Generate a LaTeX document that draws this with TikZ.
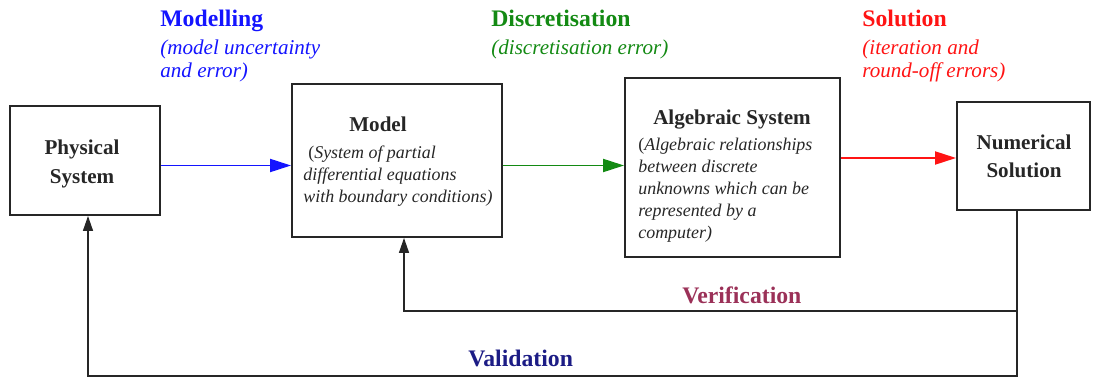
\documentclass[tikz,border=0pt]{standalone}
\usepackage{fontspec}
\setmainfont{Liberation Serif}
\usepackage{xcolor}
\usetikzlibrary{arrows.meta,positioning}
\definecolor{mdblue}{HTML}{1414FF}
\definecolor{mdgreen}{HTML}{138A13}
\definecolor{mdred}{HTML}{FF1414}
\definecolor{mdverif}{HTML}{9B3158}
\definecolor{mdvalid}{HTML}{1C1C85}
\definecolor{mdink}{HTML}{262626}
\tikzset{
  stageBox/.style={draw=mdink, line width=1.1pt, inner sep=0pt},
  stageTitle/.style={font=\fontsize{12}{16}\selectfont\bfseries, text=mdink, align=center, inner sep=0pt, anchor=base},
  stageNote/.style={font=\fontsize{10.2}{12.5}\selectfont\itshape, text=mdink, align=left, inner sep=0pt, anchor=base west},
  stepHead/.style={font=\fontsize{13.5}{16}\selectfont\bfseries, inner sep=0pt, anchor=base west},
  stepNote/.style={font=\fontsize{12}{13.1}\selectfont\itshape, align=left, inner sep=0pt, anchor=base west},
  flowArrow/.style={line width=1.1pt, -{Triangle[length=4.2mm, width=2.6mm]}},
  backArrow/.style={line width=0.8pt, draw=mdink, -{Triangle[length=3mm, width=2mm]}}
}

\begin{document}
\begin{tikzpicture}[x=0.02cm,y=-0.02cm]
  \useasboundingbox (0,0) rectangle (1097,378);
  % the four stages
  \node[stageBox, minimum width=3cm, minimum height=2.18cm] (phys) at (85,160.5) {};
  \node[stageBox, minimum width=4.2cm, minimum height=3.06cm] (model) at (397,160.5) {};
  \node[stageBox, minimum width=4.3cm, minimum height=3.58cm] (alg) at (732.5,167.5) {};
  \node[stageBox, minimum width=2.66cm, minimum height=2.16cm] (num) at (1023.5,156) {};

  % base of a multi-line text sits on its last line
  \node[stageTitle] (physT) at (82,183) {Physical\\System};
  \node[stageTitle] (modelT) at (378,132) {Model};
  \node[stageNote] (modelN) at (303,202) {\hspace*{0.1cm}\textup{(}System of partial\\differential equations\\with boundary conditions)};
  \node[stageTitle] (algT) at (732,125) {Algebraic System};
  \node[stageNote] (algN) at (638,238) {\textup{(}Algebraic relationships\\between discrete\\unknowns which can be\\represented by a\\computer)};
  \node[stageTitle, font=\fontsize{12}{15.4}\selectfont\bfseries] (numT) at (1024,177) {Numerical\\Solution};

  % forward steps
  \draw[flowArrow, mdblue] ([yshift=-0.1cm]phys.east) -- ([yshift=-0.1cm]model.west);
  \draw[flowArrow, mdgreen] ([yshift=-0.1cm]model.east) -- ([yshift=-0.1cm]model.east -| alg.west);
  \draw[flowArrow, mdred] ([yshift=-0.04cm]num.west -| alg.east) -- ([yshift=-0.04cm]num.west);

  \node[stepHead, text=mdblue] (modH) at (160,27) {Modelling};
  \node[stepNote, text=mdblue] (modE) at (160,78) {(model uncertainty\\and error)};
  \node[stepHead, text=mdgreen] (disH) at (491,27) {Discretisation};
  \node[stepNote, text=mdgreen] (disE) at (491,55) {(discretisation error)};
  \node[stepHead, text=mdred] (solH) at (862,27) {Solution};
  \node[stepNote, text=mdred] (solE) at (862,78) {(iteration and\\round-off errors)};

  % checks back from the solution
  \coordinate (numFoot) at (1017,210);
  \coordinate (verR) at (1017,311);
  \coordinate (valR) at (1017,376);
  \draw[backArrow] (numFoot) -- (valR) -| ([xshift=0.06cm]phys.south);
  \draw[backArrow] (verR) -| ([xshift=0.14cm]model.south);
  \node[stepHead, text=mdverif] (verL) at (682,303) {Verification};
  \node[stepHead, text=mdvalid] (valL) at (468,366) {Validation};
\end{tikzpicture}
\end{document}
